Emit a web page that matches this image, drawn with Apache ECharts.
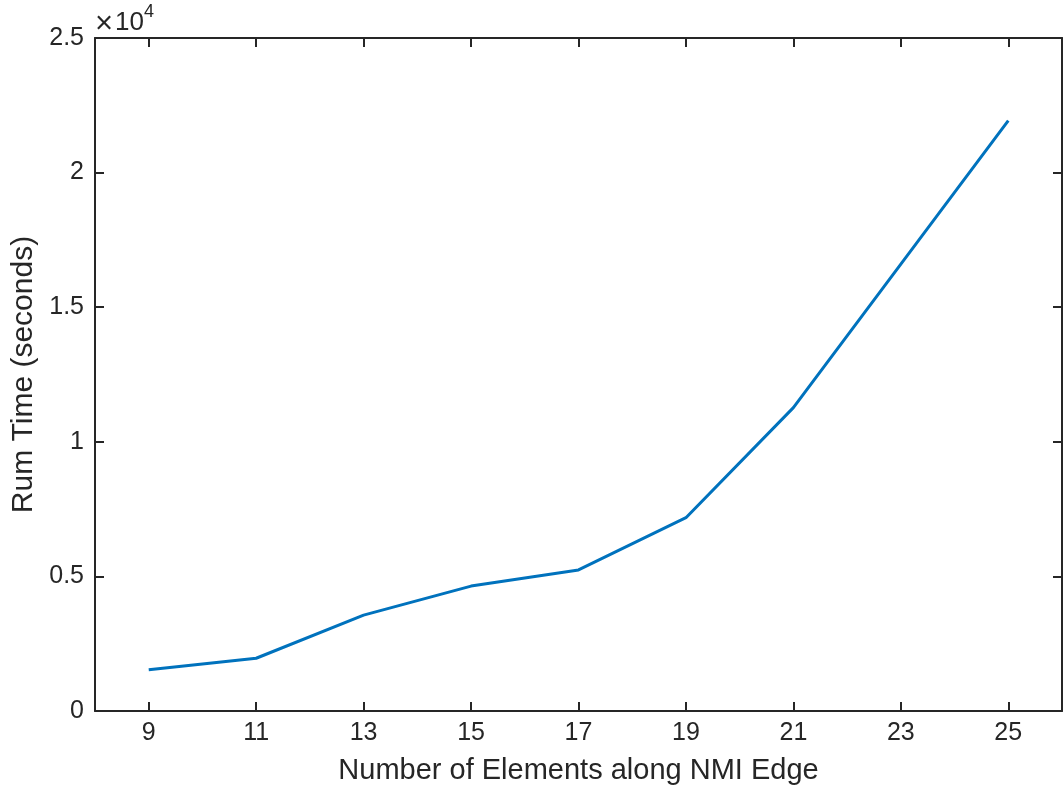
<!DOCTYPE html>
<html>
<head>
<meta charset="utf-8">
<script src="https://cdn.jsdelivr.net/npm/echarts@6/dist/echarts.min.js"></script>
<style>html,body{margin:0;padding:0;background:#fff;}#c{width:1063px;height:790px;}</style>
</head>
<body>
<div id="c"></div>
<script>
const elements = [9, 11, 13, 15, 17, 19, 21, 23, 25];
const runTime = [1530, 1960, 3560, 4640, 5240, 7180, 11270, 16600, 21930];
const xTicks = [9, 11, 13, 15, 17, 19, 21, 23, 25];
const yTicks = [0, 5000, 10000, 15000, 20000, 25000];

const font = "'Liberation Sans', Arial, Helvetica, sans-serif";
const ink = '#262626';
const chart = echarts.init(document.getElementById('c'), null, {renderer: 'canvas'});
const axisLine = {show: true, onZero: false, lineStyle: {color: ink, width: 2}};
const tick = {show: true, inside: true, length: 9, lineStyle: {color: ink, width: 2}, customValues: xTicks};
chart.setOption({
  animation: false,
  grid: {left: 95, right: 1, top: 38, bottom: 78, containLabel: false},
  xAxis: [{
    type: 'value', min: 8, max: 26, position: 'bottom',
    name: 'Number of Elements along NMI Edge', nameLocation: 'middle', nameGap: 45,
    nameTextStyle: {fontFamily: font, fontSize: 29, color: ink},
    axisLine: axisLine,
    axisTick: tick,
    axisLabel: {customValues: xTicks, fontFamily: font, fontSize: 25, color: ink, margin: 10},
    splitLine: {show: false}
  }, {
    type: 'value', min: 8, max: 26, position: 'top',
    axisLine: axisLine,
    axisTick: tick,
    axisLabel: {show: false},
    splitLine: {show: false}
  }],
  yAxis: [{
    type: 'value', min: 0, max: 25000, interval: 5000, position: 'left',
    name: 'Rum Time (seconds)', nameLocation: 'middle', nameGap: 49,
    nameTextStyle: {fontFamily: font, fontSize: 30, color: ink},
    axisLine: axisLine,
    axisTick: {show: true, inside: true, length: 9, lineStyle: {color: ink, width: 2}},
    axisLabel: {fontFamily: font, fontSize: 25, color: ink, margin: 11,
      formatter: v => String(v / 10000)},
    splitLine: {show: false}
  }, {
    type: 'value', min: 0, max: 25000, interval: 5000, position: 'right',
    axisLine: axisLine,
    axisTick: {show: true, inside: true, length: 9, lineStyle: {color: ink, width: 2}},
    axisLabel: {show: false},
    splitLine: {show: false}
  }],
  graphic: [
    {type: 'text', left: 95, top: 9, style: {text: '×', fontFamily: font, fontSize: 31, fill: ink}},
    {type: 'text', left: 115, top: 10, style: {text: '10', fontFamily: font, fontSize: 26, fill: ink}},
    {type: 'text', left: 144, top: 3, style: {text: '4', fontFamily: font, fontSize: 18, fill: ink}}
  ],
  series: [{
    type: 'line',
    data: elements.map((e, i) => [e, runTime[i]]),
    showSymbol: false,
    lineStyle: {color: '#0072BD', width: 3},
    itemStyle: {color: '#0072BD'}
  }]
});
</script>
</body>
</html>
